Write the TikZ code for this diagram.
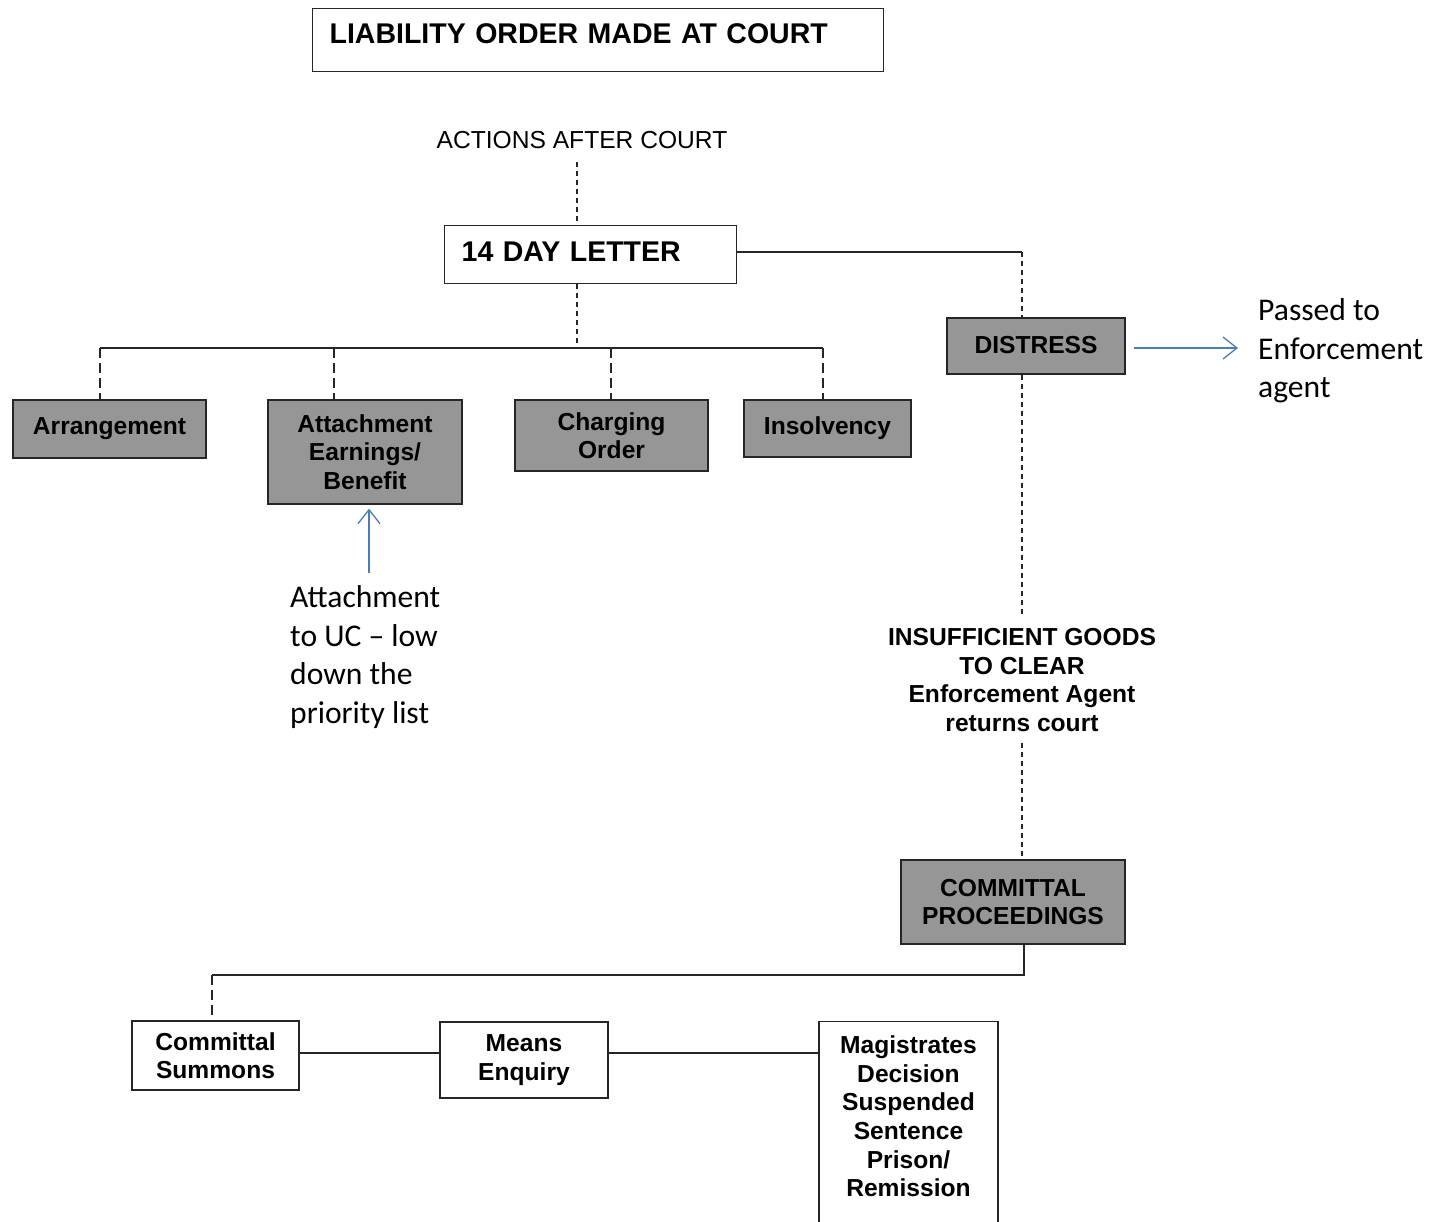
\documentclass[tikz,border=0pt]{standalone}
\usepackage{fontspec}
\setmainfont{Liberation Sans}
\newfontfamily\calfont{Carlito}
\usetikzlibrary{arrows.meta,calc}
\definecolor{boxgray}{RGB}{150,150,150}
\definecolor{arrowblue}{RGB}{74,126,187}
\begin{document}
\begin{tikzpicture}[x=1pt,y=-1pt,
  every node/.style={font=\bfseries\fontsize{24.6}{28.6}\selectfont, inner sep=0pt},
  greybox/.style={draw=black!85, line width=1.3pt, fill=boxgray, align=center},
  whitebox/.style={draw=black!85, line width=1.3pt, fill=white, align=center},
  bigtext/.style={font=\bfseries\fontsize{28.5}{34}\selectfont},
  link/.style={line width=1.2pt, black!85},
  sdash/.style={link, dash pattern=on 5pt off 4pt},
  ldash/.style={link, dash pattern=on 10pt off 5pt},
  barrow/.style={line width=1.3pt, arrowblue, -{Straight Barb[length=14pt,width=22pt,line width=1.3pt]}},
  note/.style={font=\calfont\fontsize{31.6}{38.5}\selectfont, align=left, anchor=west}
]
\clip (0,0) rectangle (1432,1221);
\fill[white] (0,0) rectangle (1432,1221);

% top
\node[draw=black!85, line width=1.3pt, anchor=north west, align=left, text width=537pt,
      inner xsep=17pt, inner ysep=0pt, text height=35pt, text depth=28pt, bigtext] (lo) at (312,8)
      {LIABILITY ORDER MADE AT COURT};
\node[font=\fontsize{24.6}{28.6}\selectfont, inner ysep=13pt] (act) at (582,140) {ACTIONS AFTER COURT};
\node[whitebox, anchor=north west, align=left, text width=258pt, inner xsep=17pt, inner ysep=0pt,
      text height=36pt, text depth=22pt, bigtext] (dl) at (444,225) {14 DAY LETTER};

% first level
\node[greybox, minimum width=193pt, minimum height=58pt] (arr) at (109.5,429) {Arrangement};
\node[greybox, minimum width=194pt, minimum height=104pt] (att) at (365,452) {Attachment\\Earnings/\\Benefit};
\node[greybox, minimum width=193pt, minimum height=71pt] (cho) at (611.5,435.5) {Charging\\Order};
\node[greybox, minimum width=167pt, minimum height=57pt] (insv) at (827.5,428.5) {Insolvency};

% distress branch
\node[greybox, minimum width=178pt, minimum height=56pt, text height=20pt, text depth=5pt] (dist) at (1036,346) {DISTRESS};
\node[note] (pe) at (1258,351) {Passed to\\Enforcement\\agent};
\node[align=center, inner ysep=11pt] (igc) at (1022,680) {INSUFFICIENT GOODS\\TO CLEAR\\Enforcement Agent\\returns court};
\node[greybox, minimum width=224pt, minimum height=84pt] (cp) at (1013,902) {COMMITTAL\\PROCEEDINGS};

\node[note] (uc) at (290,657) {Attachment\\to UC – low\\down the\\priority list};

% bottom
\node[whitebox, minimum width=167pt, minimum height=69pt] (cs) at (215.5,1055.5) {Committal\\Summons};
\node[whitebox, minimum width=168pt, minimum height=76pt] (me) at (524,1060) {Means\\Enquiry};
\node[whitebox, anchor=north, text width=179pt, inner xsep=0pt, inner ysep=0pt,
      text height=32pt, text depth=210pt] (mg) at (908.5,1021)
      {Magistrates\\Decision\\Suspended\\Sentence\\Prison/\\Remission};

% connectors
\coordinate (trunk) at (577,348);
\draw[sdash] (act.south -| trunk) -- (dl.north -| trunk);
\draw[sdash] (dl.south -| trunk) -- (trunk);
\coordinate (h1) at (100,348);
\coordinate (h2) at (334,348);
\coordinate (h3) at (611,348);
\coordinate (h4) at (823,348);
\draw[link] (h1) -- (h4);
\draw[ldash] (h1) -- (h1 |- arr.north);
\draw[ldash] (h2) -- (h2 |- att.north);
\draw[ldash] (h3) -- (h3 |- cho.north);
\draw[ldash] (h4) -- (h4 |- insv.north);

\coordinate (dcorner) at (1022,252);
\draw[link] (dl.east |- dcorner) -- (dcorner);
\draw[sdash] (dcorner) -- (dcorner |- dist.north);
\draw[sdash] (igc.north |- dist.south) -- (igc.north);
\draw[sdash] (igc.south) -- (igc.south |- cp.north);

\coordinate (b2) at (1024,975);
\coordinate (b1) at (212,975);
\draw[link] (b2 |- cp.south) -- (b2) -- (b1);
\draw[ldash] (b1) -- (b1 |- cs.north);
\draw[link] (cs.east |- 0,1053) -- (me.west |- 0,1053);
\draw[link] (me.east |- 0,1053) -- (mg.west |- 0,1053);

\draw[barrow, shorten <=8pt, shorten >=20pt] (dist.east |- 0,348) -- (pe.west |- 0,348);
\draw[barrow, shorten <=13pt, shorten >=4pt] ($(uc.north -| att.south)+(4,0)$) -- ($(att.south)+(4,0)$);
\end{tikzpicture}
\end{document}
